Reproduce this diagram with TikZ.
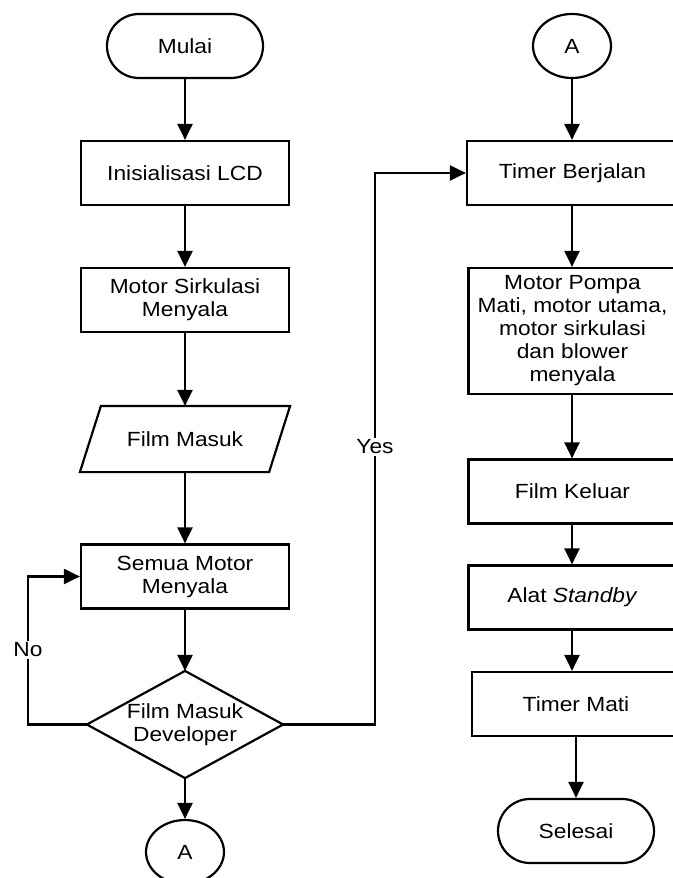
\documentclass[tikz,border=0pt]{standalone}
\usepackage{fontspec}
\setmainfont{Liberation Sans}[FakeStretch=1.11]
\usetikzlibrary{arrows.meta,shapes.geometric}
\newcommand\fsz{\fontsize{20.5}{23}\selectfont}
\begin{document}
\begin{tikzpicture}[x=1pt,y=-1pt,line width=2.2pt,
  box/.style={draw,rectangle,minimum width=208pt,minimum height=64pt,inner sep=0pt,align=center,font=\fsz},
  term/.style={draw,rectangle,rounded corners=32pt,minimum width=156pt,minimum height=64pt,inner sep=0pt,font=\fsz},
  conn/.style={draw,ellipse,minimum width=78pt,minimum height=64pt,inner sep=0pt,font=\fsz},
  dia/.style={rectangle,minimum width=194pt,minimum height=105pt,inner sep=0pt,align=center,font=\fsz},
  arr/.style={-{Triangle[length=16pt,width=15pt]}},
  lbl/.style={fill=white,inner sep=2pt,font=\fsz}]
\useasboundingbox (0,0) rectangle (672,878);
% left column
\node[term] (mulai) at (185,46) {Mulai};
\node[box] (lcd) at (185,173) {Inisialisasi LCD};
\node[box] (sirk) at (185,300) {Motor Sirkulasi\\Menyala};
\node[box,draw=none] (film) at (185,439) {Film Masuk};
\draw ([xshift=21pt]film.north west) -- (film.north east) -- ([xshift=-21pt]film.south east) -- (film.south west) -- cycle;
\node[box] (semua) at (185,576.5) {Semua Motor\\Menyala};
\node[dia] (dev) at (185,724.5) {Film Masuk\\Developer};
\draw (dev.north) -- (dev.east) -- (dev.south) -- (dev.west) -- cycle;
\node[conn] (a1) at (185,852) {A};
% right column
\node[conn] (a2) at (572,46) {A};
\node[box,minimum width=211pt] (timer) at (572.5,173) {Timer Berjalan};
\node[box,minimum width=208pt,minimum height=126pt] (pompa) at (572.5,331) {Motor Pompa\\Mati, motor utama,\\motor sirkulasi\\dan blower\\menyala};
\node[box] (keluar) at (572.5,491.5) {Film Keluar};
\node[box] (standby) at (572.5,597.5) {Alat \textit{Standby}};
\node[box] (tmati) at (576,704) {Timer Mati};
\node[term] (selesai) at (576,831) {Selesai};
% connectors
\draw[arr] (mulai) -- (lcd);
\draw[arr] (lcd) -- (sirk);
\draw[arr] (sirk) -- (film);
\draw[arr] (film) -- (semua);
\draw[arr] (semua) -- (dev.north);
\draw[arr] (dev.south) -- (a1);
\coordinate (nocorner) at (28,576.5);
\draw[arr] (dev.west) -| (nocorner) -- (semua.west);
\node[lbl] at (28,650) {No};
\coordinate (yescorner) at (375,173);
\draw[arr] (dev.east) -| (yescorner) -- (timer.west);
\node[lbl] at (375,447) {Yes};
\draw[arr] (a2) -- (a2 |- timer.north);
\draw[arr] (timer.south -| a2) -- (a2 |- pompa.north);
\draw[arr] (pompa.south -| a2) -- (a2 |- keluar.north);
\draw[arr] (keluar.south -| a2) -- (a2 |- standby.north);
\draw[arr] (standby.south -| a2) -- (a2 |- tmati.north);
\draw[arr] (tmati) -- (selesai);
\end{tikzpicture}
\end{document}
